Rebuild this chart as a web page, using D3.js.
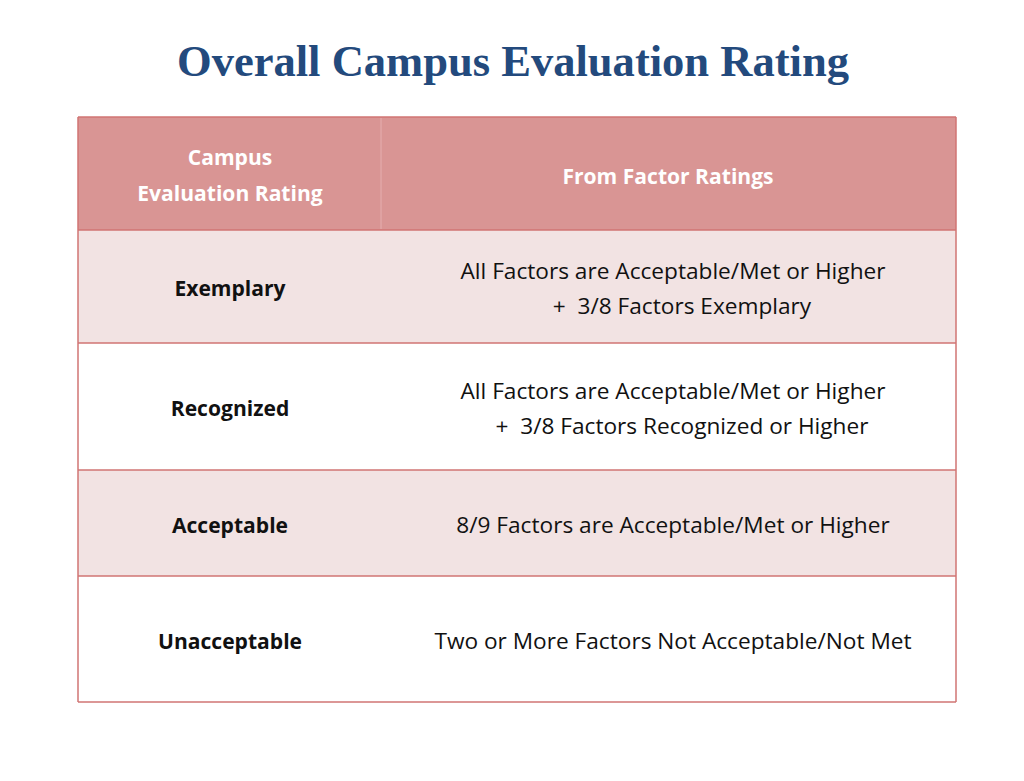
<!DOCTYPE html>
<html>
<head>
<meta charset="utf-8">
<script src="https://cdn.jsdelivr.net/npm/d3@7"></script>
<style>
  html, body { margin: 0; padding: 0; background: #ffffff; }
  svg { display: block; }
</style>
</head>
<body>
<svg id="chart" width="1024" height="781"></svg>
<script>
// ---- data ----
const title = "Overall Campus Evaluation Rating";
const headerLabels = [["Campus", "Evaluation Rating"], ["From Factor Ratings"]];
const ratings = ["Exemplary", "Recognized", "Acceptable", "Unacceptable"];
const criteria = [
  ["All Factors are Acceptable/Met or Higher", "+  3/8 Factors Exemplary"],
  ["All Factors are Acceptable/Met or Higher", "+  3/8 Factors Recognized or Higher"],
  ["8/9 Factors are Acceptable/Met or Higher"],
  ["Two or More Factors Not Acceptable/Not Met"]
];

// ---- layout ----
const svg = d3.select("#chart");
const tableLeft = 78, tableRight = 956, colSplit = 381;
const rowEdges = [117, 230, 343, 470, 576, 702]; // header + 4 rows
const headerFill = "#d99594", bandFill = "#f2e3e3", borderColor = "#d07573";
const lineGap = 35.5;
const bodyFont = "'Open Sans', 'Liberation Sans', sans-serif";

// title
const t = svg.append("text")
  .attr("x", 513).attr("y", 76)
  .attr("text-anchor", "middle")
  .attr("font-family", "'Liberation Serif', 'DejaVu Serif', serif")
  .attr("font-weight", "bold")
  .attr("font-size", 44)
  .attr("fill", "#234a7d")
  .text(title);
t.attr("textLength", 672).attr("lengthAdjust", "spacingAndGlyphs");

// row scale (index -> top/bottom)
const rowY = d3.scaleOrdinal().domain(d3.range(rowEdges.length)).range(rowEdges);

// header background
svg.append("rect")
  .attr("x", tableLeft).attr("y", rowY(0))
  .attr("width", tableRight - tableLeft).attr("height", rowY(1) - rowY(0))
  .attr("fill", headerFill);

// body rows
const rows = svg.selectAll("g.row").data(ratings).join("g").attr("class", "row");
rows.append("rect")
  .attr("x", tableLeft)
  .attr("y", (d, i) => rowY(i + 1))
  .attr("width", tableRight - tableLeft)
  .attr("height", (d, i) => rowY(i + 2) - rowY(i + 1))
  .attr("fill", (d, i) => i % 2 === 0 ? bandFill : "#ffffff");

// header column divider
svg.append("line")
  .attr("x1", colSplit).attr("x2", colSplit)
  .attr("y1", rowY(0) + 1).attr("y2", rowY(1) - 1)
  .attr("stroke", "#e3abab").attr("stroke-width", 1.2);

// horizontal borders
svg.selectAll("line.h").data(rowEdges).join("line").attr("class", "h")
  .attr("x1", tableLeft).attr("x2", tableRight)
  .attr("y1", d => d).attr("y2", d => d)
  .attr("stroke", borderColor).attr("stroke-width", 1.5);
// vertical outer borders
svg.selectAll("line.v").data([tableLeft, tableRight]).join("line").attr("class", "v")
  .attr("x1", d => d).attr("x2", d => d)
  .attr("y1", rowEdges[0]).attr("y2", rowEdges[rowEdges.length - 1])
  .attr("stroke", borderColor).attr("stroke-width", 1.5);

// text helpers with horizontal calibration to mimic Calibri widths
function calib(weight, sample, target, size) {
  const tmp = svg.append("text").attr("font-family", bodyFont)
    .attr("font-weight", weight).attr("font-size", size).text(sample);
  const w = tmp.node().getComputedTextLength();
  tmp.remove();
  return target / w;
}
const regSize = 22, boldSize = 22;
const regRatio = calib("normal", "All Factors are Acceptable/Met or Higher", 425, regSize);
const boldRatio = calib("bold", "Unacceptable", 144, boldSize);

function addText(x, y, str, weight, size, fill, ratio) {
  const el = svg.append("text")
    .attr("x", x).attr("y", y)
    .attr("text-anchor", "middle")
    .attr("dominant-baseline", "central")
    .attr("font-family", bodyFont)
    .attr("font-weight", weight)
    .attr("font-size", size)
    .attr("fill", fill)
    .style("white-space", "pre")
    .text(str);
  const w = el.node().getComputedTextLength();
  el.attr("textLength", w * ratio).attr("lengthAdjust", "spacingAndGlyphs");
  return el;
}

const col1X = (tableLeft + colSplit) / 2 + 0.5;
const col2X = 673;

// header texts
const hMid = (rowY(0) + rowY(1)) / 2;
headerLabels[0].forEach((s, k, arr) => {
  addText(col1X, hMid + 0.5 + (k - (arr.length - 1) / 2) * lineGap, s, "bold", boldSize, "#ffffff", boldRatio);
});
headerLabels[1].forEach((s, k, arr) => {
  addText(668, hMid + 1 + (k - (arr.length - 1) / 2) * lineGap, s, "bold", boldSize, "#ffffff", boldRatio);
});

// body texts
ratings.forEach((r, i) => {
  const mid = (rowY(i + 1) + rowY(i + 2)) / 2 + 0.8;
  addText(col1X, mid, r, "bold", boldSize, "#111111", boldRatio);
  const lines = criteria[i];
  lines.forEach((s, k) => {
    const y = mid + (k - (lines.length - 1) / 2) * lineGap;
    addText(col2X + (k > 0 ? 9 : 0), y, s, "normal", regSize, "#111111", regRatio);
  });
});
</script>
</body>
</html>
